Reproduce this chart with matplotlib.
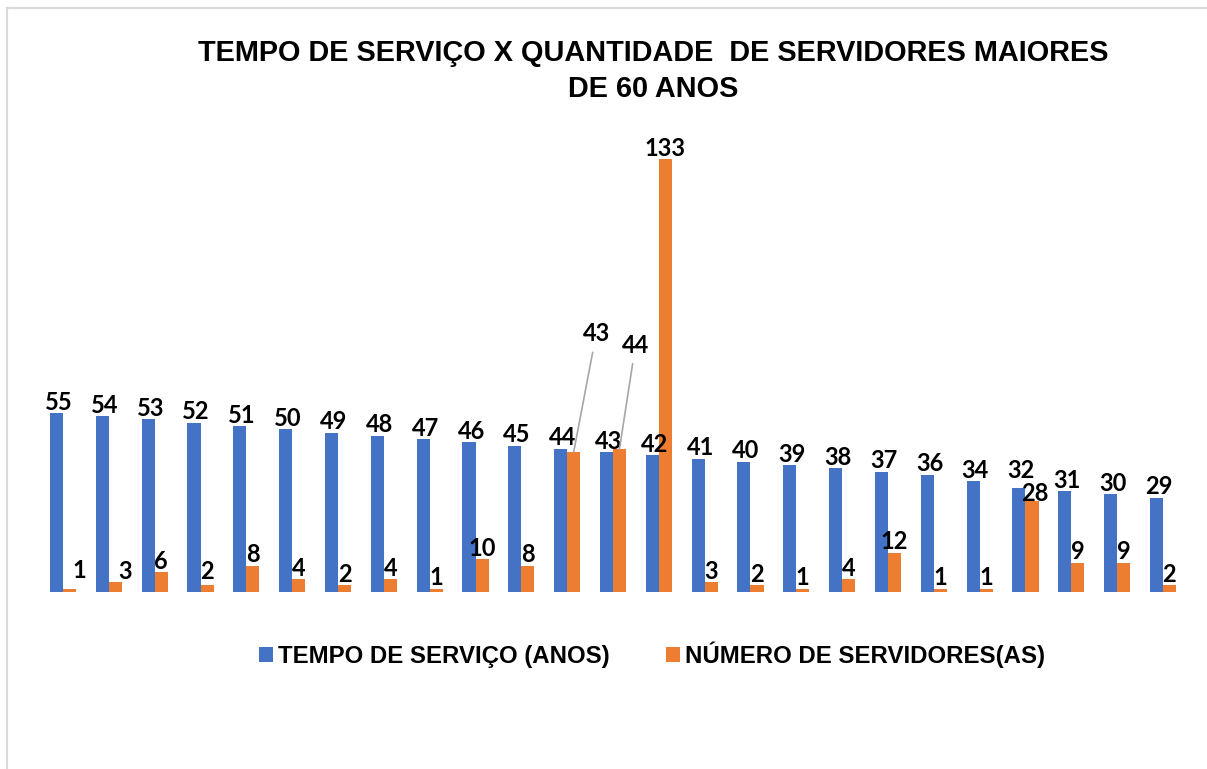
import matplotlib
matplotlib.use('Agg')
import matplotlib.pyplot as plt
import numpy as np
from matplotlib.lines import Line2D
from matplotlib.patches import Patch

# ---- data ----
categories = list(range(1, 26))
tempo = [55, 54, 53, 52, 51, 50, 49, 48, 47, 46, 45, 44, 43, 42, 41, 40, 39, 38,
         37, 36, 34, 32, 31, 30, 29]
servidores = [1, 3, 6, 2, 8, 4, 2, 4, 1, 10, 8, 43, 44, 133, 3, 2, 1, 4, 12, 1, 1,
              28, 9, 9, 2]
series_names = ['TEMPO DE SERVIÇO (ANOS)', 'NÚMERO DE SERVIDORES(AS)']
title_lines = ['TEMPO DE SERVIÇO X QUANTIDADE  DE SERVIDORES MAIORES', 'DE 60 ANOS']

BLUE = '#4472C4'
ORANGE = '#ED7D31'
W, H = 1207, 769

fig = plt.figure(figsize=(W / 100, H / 100), dpi=100)
fig.patch.set_facecolor('white')

ax = fig.add_axes([40.1 / W, (H - 592) / H, 1145.8 / W, 455.7 / H])
x = np.arange(len(categories))
w = 0.284
ax.bar(x - w / 2, tempo, w, color=BLUE, label=series_names[0])
ax.bar(x + w / 2, servidores, w, color=ORANGE, label=series_names[1])
ax.set_xlim(-0.5, len(categories) - 0.5)
ax.set_ylim(0, 140)
ax.axis('off')

lab_font = dict(fontsize=17, fontweight='bold', family=['Lato', 'DejaVu Sans'],
                color='black')

blue_yoff = {21: 7}
for i, v in enumerate(tempo):
    ax.annotate(str(v), (i - w / 2, v), xytext=(1.5, blue_yoff.get(i, 2.5)),
                textcoords='offset points', ha='center', va='baseline', **lab_font)

special = {11: (16.2, 85), 12: (11.5, 74.5)}
xoff = {0: 7, 1: 7, 21: 2}
yoff = {0: 8, 3: 5, 21: 0}
for i, v in enumerate(servidores):
    if i in special:
        dx, dy = special[i]
        ax.annotate(str(v), (i + w / 2, v), xytext=(dx, dy),
                    textcoords='offset points', ha='center', va='center',
                    arrowprops=dict(arrowstyle='-', color='#A6A6A6', lw=1.2,
                                    shrinkA=3, shrinkB=0),
                    **lab_font)
    else:
        ax.annotate(str(v), (i + w / 2, v), xytext=(xoff.get(i, 0), yoff.get(i, 2.5)),
                    textcoords='offset points', ha='center', va='baseline',
                    **lab_font)

tfont = dict(fontsize=20.8, fontweight='bold', family=['Liberation Sans', 'DejaVu Sans'])
fig.text(653 / W, 1 - 53 / H, title_lines[0], ha='center', va='center', **tfont)
fig.text(653 / W, 1 - 89 / H, title_lines[1], ha='center', va='center', **tfont)

handles = [Patch(facecolor=BLUE), Patch(facecolor=ORANGE)]
leg = fig.legend(handles, series_names, loc='center', bbox_to_anchor=(652 / W, 1 - 655 / H),
                 ncol=2, frameon=False, handlelength=0.57, handleheight=0.57,
                 handletextpad=0.23, columnspacing=2.33,
                 prop=dict(size=17.3, weight='bold', family=['Liberation Sans', 'DejaVu Sans']))

# chart frame (partially cropped)
fig.add_artist(Line2D([7 / W, 1], [1 - 8 / H, 1 - 8 / H], transform=fig.transFigure,
                      color='#D9D9D9', lw=1.5))
fig.add_artist(Line2D([7 / W, 7 / W], [0, 1 - 8 / H], transform=fig.transFigure,
                      color='#D9D9D9', lw=1.5))

fig.savefig('out.png', dpi=100, facecolor='white')
